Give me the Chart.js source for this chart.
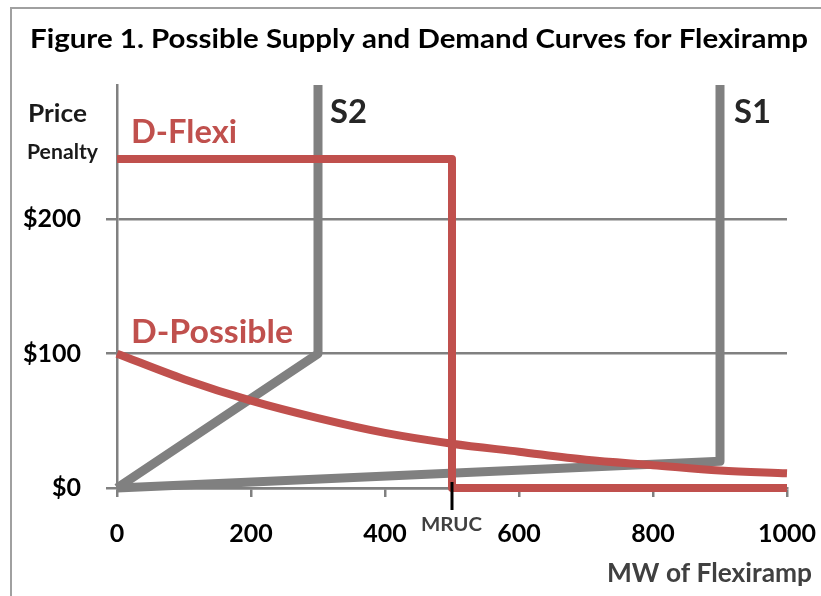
<!DOCTYPE html>
<html>
<head>
<meta charset="utf-8">
<script src="https://cdn.jsdelivr.net/npm/chart.js@4"></script>
<style>
  html, body { margin: 0; padding: 0; background: #fff; }
  #wrap { width: 821px; height: 596px; position: relative; }
</style>
</head>
<body>
<div id="wrap"><canvas id="chart" width="821" height="596"></canvas></div>
<script>
// Data
const mw = [0, 100, 200, 300, 400, 500, 600, 700, 800, 900, 1000];
const dPossible = [100, 81, 65, 52, 41, 33, 27, 21, 17, 13, 11];
const dFlexiX = [0, 500, 500, 1000];
const dFlexiY = [245, 245, 0, 0];
const s1X = [0, 900, 900];
const s1Y = [0, 20, 300];
const s2X = [0, 300, 300];
const s2Y = [0, 100, 300];
const xTicks = [0, 200, 400, 600, 800, 1000];
const yTicks = [0, 100, 200];
const mruc = 500;

const RED = '#C0504D';
const GREY = '#808080';
const FONT = 'Lato, "Open Sans", sans-serif';

function pts(xs, ys) {
    return xs.map((x, i) => ({ x: x, y: ys[i] }));
}

// draw text squeezed/stretched to a given width (the original font is narrower)
function fitText(c, text, x, y, w, right) {
    const m = c.measureText(text).width;
    c.save();
    c.translate(right ? x - w : x, y);
    c.scale(w / m, 1);
    c.textAlign = 'left';
    c.fillText(text, 0, 0);
    c.restore();
}

// Text, frame and MRUC marker
const extras = {
    id: 'extras',
    beforeDraw(chart) {
        const c = chart.ctx;
        c.save();
        c.strokeStyle = '#a0a0a0';
        c.lineWidth = 2;
        c.beginPath();
        c.moveTo(11, 596);
        c.lineTo(11, 8);
        c.lineTo(821, 8);
        c.stroke();
        c.restore();
    },
    afterDraw(chart) {
        const c = chart.ctx;
        const x = chart.scales.x, y = chart.scales.y;
        c.save();
        // MRUC marker
        const mx = x.getPixelForValue(mruc);
        const y0 = y.getPixelForValue(0);
        c.strokeStyle = '#000';
        c.lineWidth = 3;
        c.beginPath();
        c.moveTo(mx, y0 - 6);
        c.lineTo(mx, y0 + 22);
        c.stroke();

        c.textBaseline = 'alphabetic';
        c.fillStyle = '#404040';
        c.font = 'bold 18px ' + FONT;
        fitText(c, 'MRUC', mx - 31, 531, 61);

        c.fillStyle = '#000';
        c.font = 'bold 26px ' + FONT;
        fitText(c, 'Figure 1. Possible Supply and Demand Curves for Flexiramp', 30, 48, 778);

        c.fillStyle = '#1a1a1a';
        c.font = 'bold 25px ' + FONT;
        fitText(c, 'Price', 28, 122, 59);
        c.font = 'bold 20px ' + FONT;
        fitText(c, 'Penalty', 27, 159, 71);

        c.fillStyle = '#404040';
        c.font = 'bold 26px ' + FONT;
        fitText(c, 'MW of Flexiramp', 812, 582, 205, true);

        c.fillStyle = RED;
        c.font = 'bold 32px ' + FONT;
        fitText(c, 'D-Flexi', 131, 143, 106);
        fitText(c, 'D-Possible', 131, 343, 162);

        c.fillStyle = '#262626';
        c.font = 'bold 33px ' + FONT;
        fitText(c, 'S2', 330, 123, 37);
        fitText(c, 'S1', 734, 123, 37);
        c.restore();
    }
};

const ctx = document.getElementById('chart').getContext('2d');
let chart = new Chart(ctx, {
    type: 'scatter',
    data: {
        datasets: [
            { label: 'D-Possible', data: pts(mw, dPossible), borderColor: RED, borderWidth: 8, cubicInterpolationMode: 'monotone' },
            { label: 'D-Flexi', data: pts(dFlexiX, dFlexiY), borderColor: RED, borderWidth: 8 },
            { label: 'S1', data: pts(s1X, s1Y), borderColor: GREY, borderWidth: 9 },
            { label: 'S2', data: pts(s2X, s2Y), borderColor: GREY, borderWidth: 9 }
        ].map(d => Object.assign(d, {
            showLine: true, pointRadius: 0, pointHoverRadius: 0, fill: false,
            borderJoinStyle: 'round', clip: false
        }))
    },
    options: {
        responsive: false,
        animation: false,
        devicePixelRatio: 1,
        layout: { padding: { top: 85, right: 34, left: 0, bottom: 0 } },
        plugins: { legend: { display: false }, tooltip: { enabled: false } },
        scales: {
            x: {
                type: 'linear', min: 0, max: 1000,
                afterBuildTicks: s => { s.ticks = xTicks.map(v => ({ value: v })); },
                afterFit: s => { s.height = 108; s.paddingLeft = 0; s.paddingRight = 0; },
                grid: { drawOnChartArea: false, color: GREY, lineWidth: 2.5, tickLength: 9 },
                border: { color: GREY, width: 2.5 },
                ticks: { color: '#000', font: { family: FONT, size: 25, weight: 'bold' }, padding: 22, maxRotation: 0,
                         callback: v => String(v) }
            },
            y: {
                type: 'linear', min: 0, max: 300,
                afterBuildTicks: s => { s.ticks = yTicks.map(v => ({ value: v })); },
                afterFit: s => { s.width = 117; s.paddingTop = 0; s.paddingBottom = 0; },
                grid: { color: GREY, lineWidth: 2.5, tickLength: 11 },
                border: { color: GREY, width: 2.5 },
                ticks: { color: '#000', font: { family: FONT, size: 25, weight: 'bold' }, padding: 25,
                         callback: v => '$' + v }
            }
        }
    },
    plugins: [extras]
});
</script>
</body>
</html>
